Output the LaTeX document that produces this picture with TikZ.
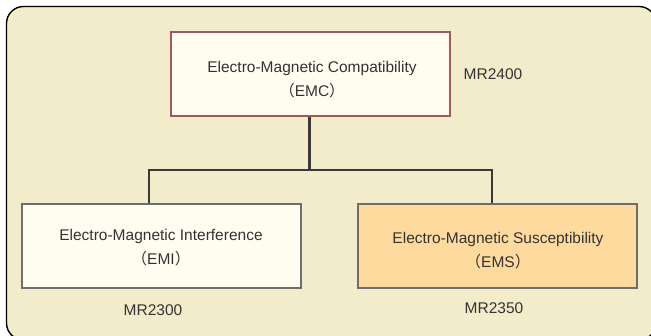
\documentclass[tikz,border=0pt]{standalone}
\usepackage{fontspec}
\setmainfont{Liberation Sans}
\newfontfamily\cjk{Noto Sans CJK JP}
\definecolor{bgfill}{HTML}{F2ECCA}
\definecolor{boxfill}{HTML}{FFFDF0}
\definecolor{emsfill}{HTML}{FEDA9E}
\definecolor{emcline}{HTML}{A05A5A}
\definecolor{grayline}{HTML}{6E6E6E}
\definecolor{connline}{HTML}{3A3A3A}
\definecolor{txt}{HTML}{333333}
\begin{document}
\begin{tikzpicture}[x=1pt,y=-1pt,
  boxbase/.style={draw, line width=1.6pt, minimum width=279pt, minimum height=84pt, inner sep=0pt},
  emcbox/.style={boxbase, draw=emcline, fill=boxfill},
  emibox/.style={boxbase, draw=grayline, fill=boxfill},
  emsbox/.style={boxbase, draw=grayline, fill=emsfill},
  boxtext/.style={align=center, text=txt, font=\fontsize{15.5}{24}\selectfont, inner sep=0pt},
  code/.style={text=txt, font=\fontsize{15.5}{18}\selectfont, inner sep=0pt},
  conn/.style={draw=connline, line width=2.6pt}]
\useasboundingbox (0,0) rectangle (651,336);
\begin{scope}
\clip (0,0) rectangle (651,336);
\draw[fill=bgfill, line width=1.4pt, rounded corners=17pt] (6.5,6.5) rectangle (656,340);
\end{scope}
\node[emcbox] (emc) at (310.5,74) {};
\node[emibox] (emi) at (161.5,246) {};
\node[emsbox] (ems) at (497.5,246) {};
\node[boxtext] (emct) at (312,80) {Electro-Magnetic Compatibility\\{\cjk （}EMC{\cjk ）}};
\node[boxtext] (emit) at (161,247.5) {Electro-Magnetic Interference\\{\cjk （}EMI{\cjk ）}};
\node[boxtext] (emst) at (498,251) {Electro-Magnetic Susceptibility\\{\cjk （}EMS{\cjk ）}};
\node[code] (c2400) at (493,74) {MR2400};
\node[code] (c2300) at (153,310) {MR2300};
\node[code] (c2350) at (494,308) {MR2350};
\coordinate (jn) at (309.3,170);
\coordinate (jl) at (149,170);
\coordinate (jr) at (492,170);
\draw[conn] (emc.south -| jn) -- (jn);
\draw[conn, line cap=rect] (jl) -- (jr);
\draw[conn] (jl) -- (jl |- emi.north);
\draw[conn] (jr) -- (jr |- ems.north);
\end{tikzpicture}
\end{document}
